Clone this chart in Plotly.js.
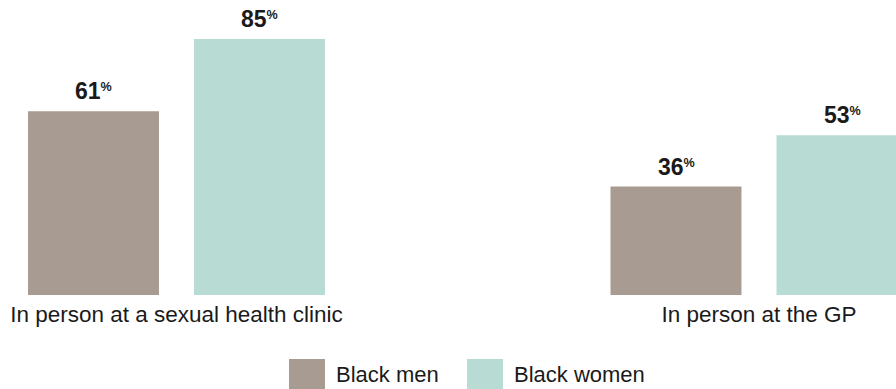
<!DOCTYPE html>
<html>
<head>
<meta charset="utf-8">
<script src="https://cdn.plot.ly/plotly-3.0.1.min.js"></script>
<style>
  html, body { margin: 0; padding: 0; background: #ffffff; }
  #chart { width: 896px; height: 389px; }
</style>
</head>
<body>
<div id="chart"></div>
<script>
// Where people would go for a test: share of respondents
const categories = ['In person at a sexual health clinic', 'In person at the GP'];
const seriesNames = ['Black men', 'Black women'];
const menValues = [61, 36];
const womenValues = [85, 53];

const colors = ['#a89b92', '#b8dcd3'];
const textColor = '#1a1a1a';
const font = 'Liberation Sans, Arial, Helvetica, sans-serif';

function barTrace(name, values, color) {
  return {
    type: 'bar',
    name: name,
    x: categories,
    y: values,
    marker: { color: color, line: { width: 0 } },
    hoverinfo: 'skip'
  };
}

const data = [
  barTrace(seriesNames[0], menValues, colors[0]),
  barTrace(seriesNames[1], womenValues, colors[1])
];

// Value labels above each bar, with a small raised percent sign
const barOffsetPx = 83;
const valueLabels = [];
[menValues, womenValues].forEach((vals, s) => {
  vals.forEach((v, i) => {
    valueLabels.push({
      xref: 'x', yref: 'y', x: categories[i], y: v,
      xshift: (s === 0 ? -1 : 1) * barOffsetPx, yshift: 5,
      xanchor: 'center', yanchor: 'bottom', showarrow: false,
      text: '<b>' + v + '<span style="font-size:18px"><sup>%</sup></span></b>',
      font: { family: font, size: 23, color: textColor }
    });
  });
});

// Custom legend: large square swatches with labels beneath the chart
const plotH = 295;
const py = p => (plotH - p) / plotH;
const legendItems = [
  { x0: 289, x1: 325, tx: 334 },
  { x0: 467, x1: 503, tx: 512 }
];
const shapes = legendItems.map((it, i) => ({
  type: 'rect', xref: 'paper', yref: 'paper',
  x0: it.x0 / 896, x1: it.x1 / 896, y0: py(389), y1: py(359),
  fillcolor: colors[i], line: { width: 0 }
}));
const legendLabels = legendItems.map((it, i) => ({
  xref: 'paper', yref: 'paper', x: it.tx / 896, y: py(374),
  xanchor: 'left', yanchor: 'middle', showarrow: false,
  text: seriesNames[i], font: { family: font, size: 22, color: textColor }
}));

const layout = {
  width: 896, height: 389,
  margin: { l: 0, r: 0, t: 0, b: 94, pad: 0 },
  paper_bgcolor: '#ffffff', plot_bgcolor: '#ffffff',
  barmode: 'group',
  bargap: 0.43,
  bargroupgap: 0.211,
  showlegend: false,
  xaxis: {
    type: 'category',
    range: [-0.303, 1.2352],
    showgrid: false, zeroline: false, showline: false,
    ticks: '', ticklabelstandoff: 3,
    tickfont: { family: font, size: 22.5, color: textColor },
    fixedrange: true
  },
  yaxis: {
    range: [0, 97.94],
    visible: false, showgrid: false, zeroline: false, fixedrange: true
  },
  shapes: shapes,
  annotations: valueLabels.concat(legendLabels)
};

Plotly.newPlot('chart', data, layout, { displayModeBar: false, staticPlot: true });
</script>
</body>
</html>
